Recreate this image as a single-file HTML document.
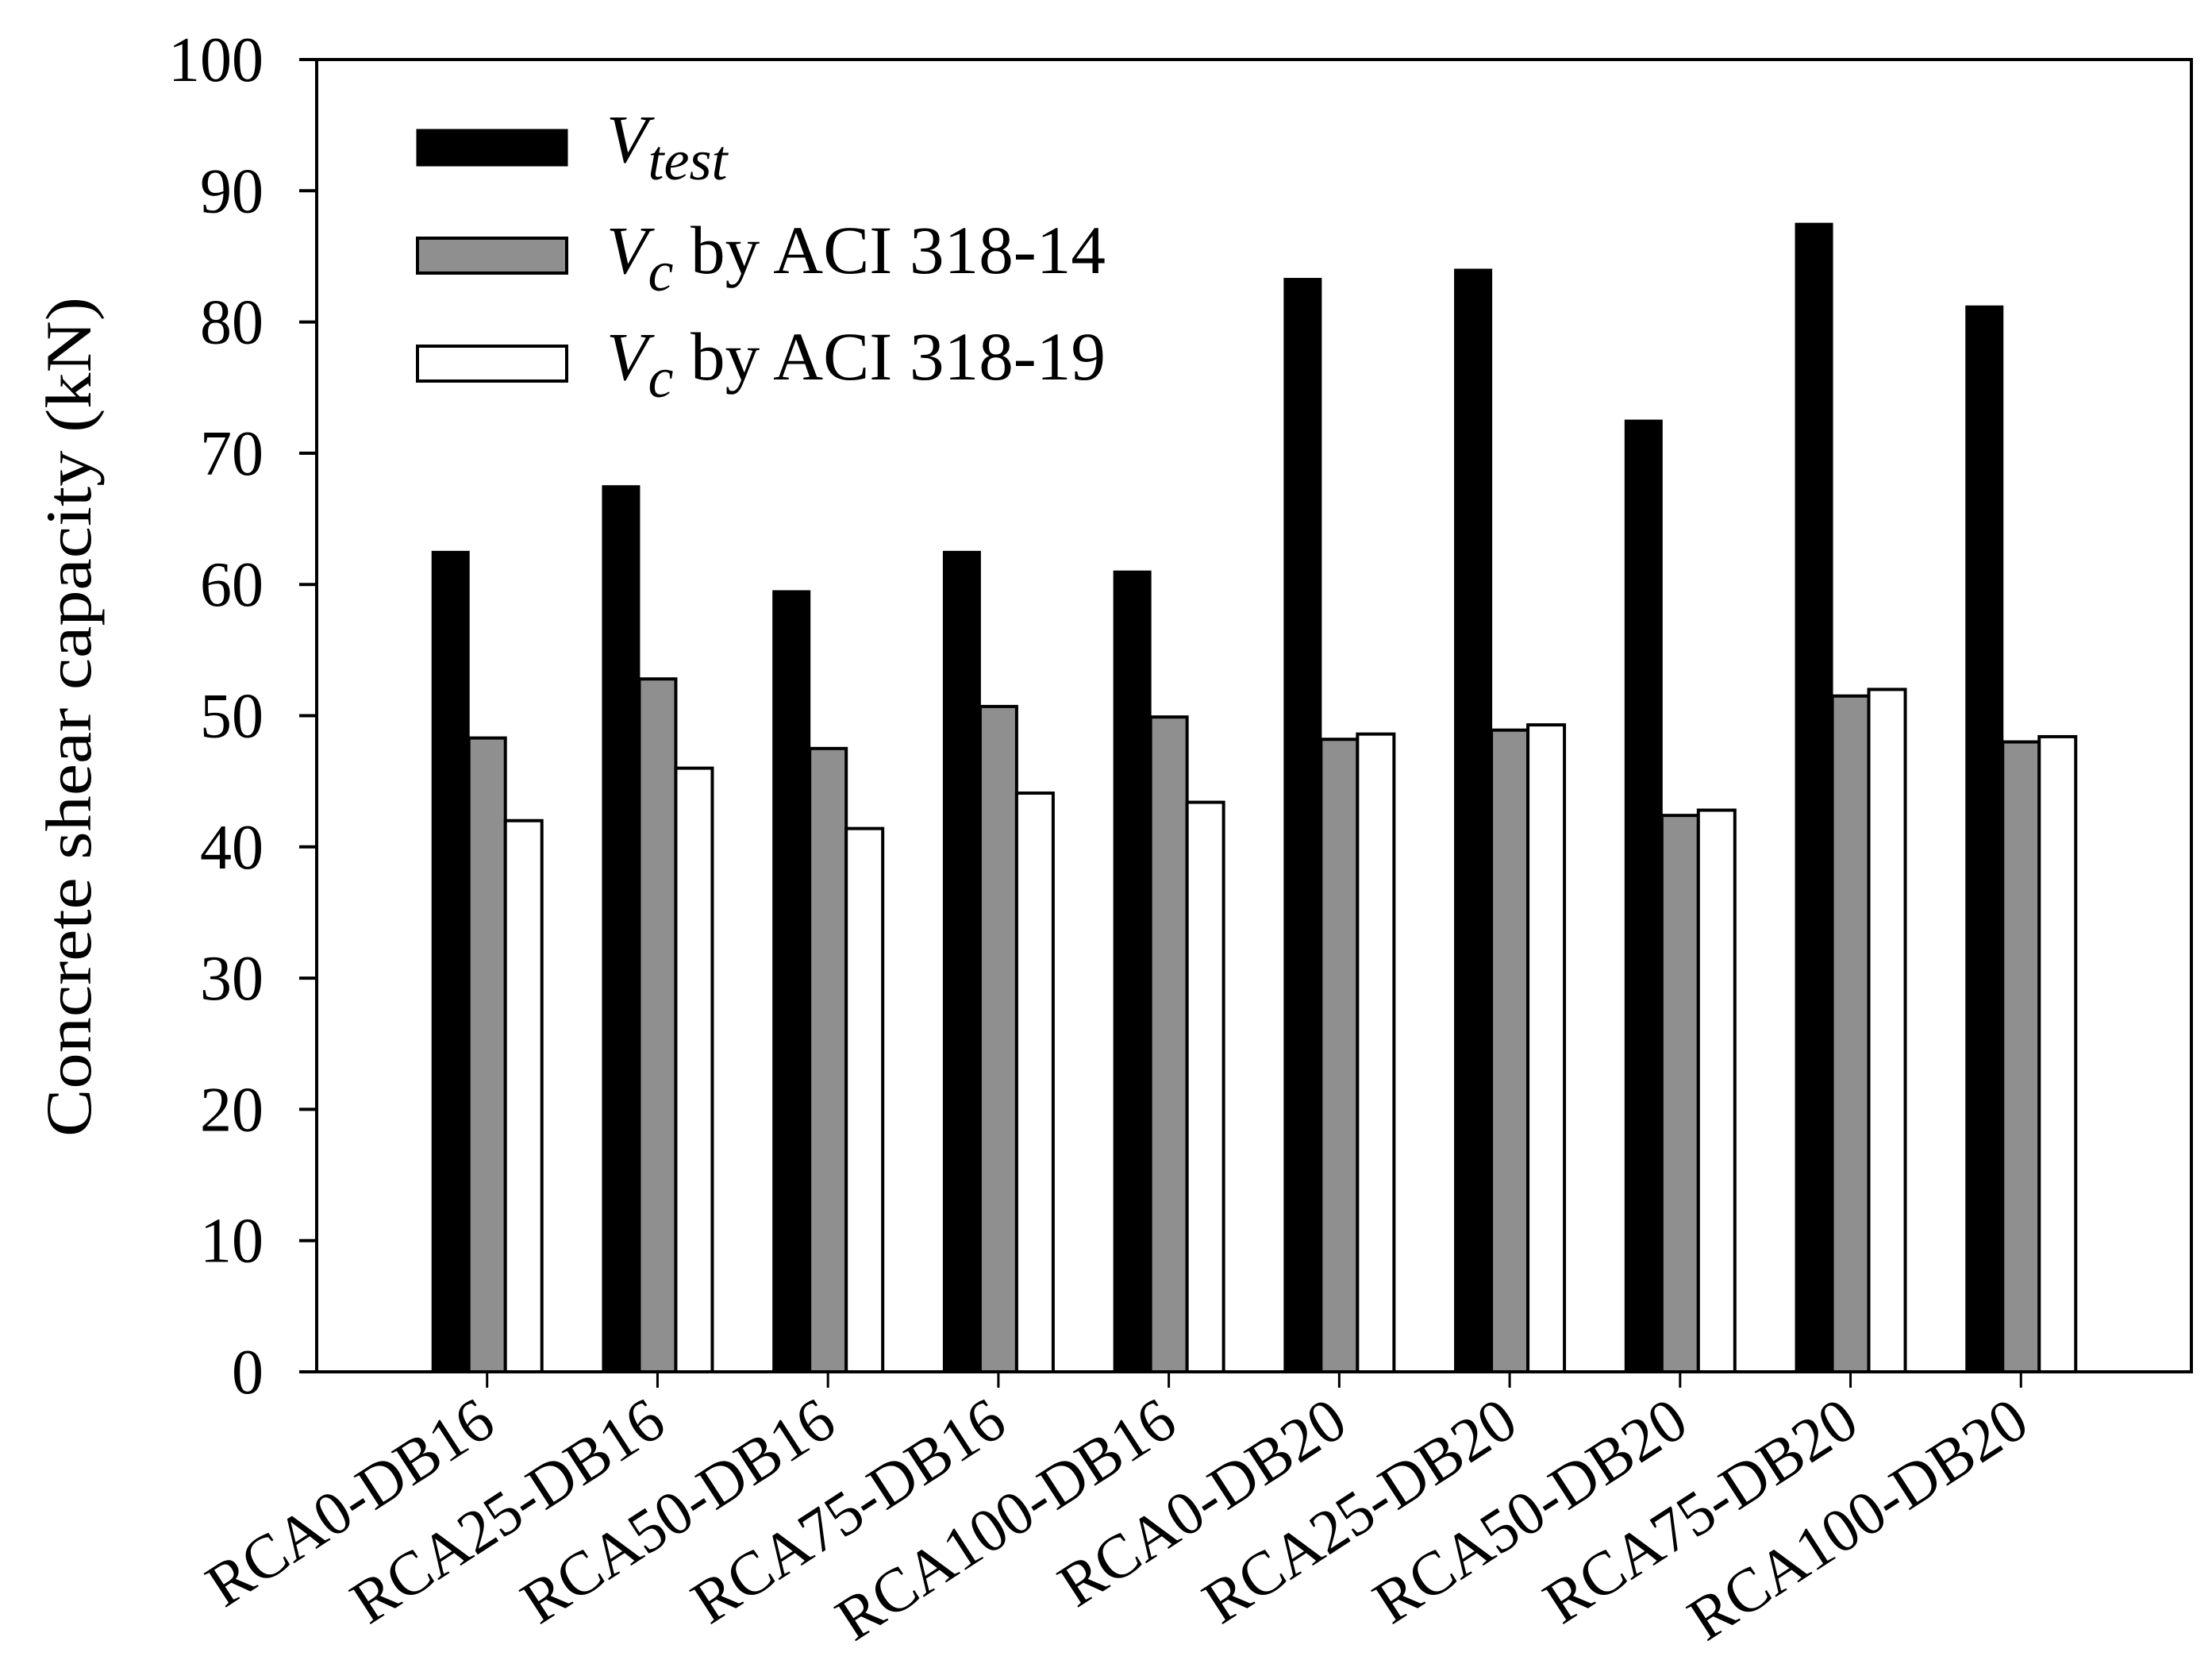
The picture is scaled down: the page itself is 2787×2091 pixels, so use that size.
<!DOCTYPE html>
<html><head><meta charset="utf-8"><style>
html,body{margin:0;padding:0;background:#fff;}
svg{display:block;font-family:"Liberation Serif",serif;}
</style></head><body>
<svg id="chart" width="2787" height="2091" viewBox="0 0 2787 2091" xmlns="http://www.w3.org/2000/svg">
<rect x="0" y="0" width="2787" height="2091" fill="#fff"/>
<g id="bars"></g>
<g id="axes"></g>
<text transform="translate(114,903) rotate(-90)" text-anchor="middle" font-size="82" textLength="1058" lengthAdjust="spacingAndGlyphs">Concrete shear capacity (kN)</text>
<g>
  <rect x="526" y="164" width="188" height="44" fill="#000" stroke="#000" stroke-width="3"/>
  <text x="764" y="204" font-size="86" font-style="italic">V<tspan font-size="72" dy="22">test</tspan></text>
  <rect x="526" y="300" width="188" height="44" fill="#8f8f8f" stroke="#000" stroke-width="4"/>
  <text x="764" y="344" font-size="86"><tspan font-style="italic">V</tspan><tspan font-style="italic" font-size="72" dy="22">c</tspan><tspan dy="-22" x="870" textLength="523" lengthAdjust="spacingAndGlyphs">by ACI 318-14</tspan></text>
  <rect x="526" y="436" width="188" height="44" fill="#fff" stroke="#000" stroke-width="4"/>
  <text x="764" y="478" font-size="86"><tspan font-style="italic">V</tspan><tspan font-style="italic" font-size="72" dy="22">c</tspan><tspan dy="-22" x="870" textLength="523" lengthAdjust="spacingAndGlyphs">by ACI 318-19</tspan></text>
</g>
</svg>
<script>
const categories = ["RCA0-DB16","RCA25-DB16","RCA50-DB16","RCA75-DB16","RCA100-DB16","RCA0-DB20","RCA25-DB20","RCA50-DB20","RCA75-DB20","RCA100-DB20"];
const vTest = [62.5, 67.5, 59.5, 62.5, 61.0, 83.3, 84.0, 72.5, 87.5, 81.2];
const vcAci14 = [48.3, 52.8, 47.5, 50.7, 49.9, 48.2, 48.9, 42.4, 51.5, 48.0];
const vcAci19 = [42.0, 46.0, 41.4, 44.1, 43.4, 48.6, 49.3, 42.8, 52.0, 48.4];
const yTicks = [0,10,20,30,40,50,60,70,80,90,100];

const NS = "http://www.w3.org/2000/svg";
const L = 399, R = 2761, T = 75, B = 1728;
const yMax = 100;
const y = v => B - v / yMax * (B - T);
const slot = (R - L) / (categories.length + 1);
const xc = i => L + (i + 1) * slot;
const BW = 46;

function mk(tag, attrs, parent) {
  const el = document.createElementNS(NS, tag);
  for (const k in attrs) el.setAttribute(k, attrs[k]);
  parent.appendChild(el);
  return el;
}
const bars = document.getElementById("bars");
const axes = document.getElementById("axes");
const series = [
  {vals: vTest, fill: "#000", sw: 2, off: -69, name: "vtest"},
  {vals: vcAci14, fill: "#8f8f8f", sw: 4, off: -23, name: "aci14"},
  {vals: vcAci19, fill: "#fff", sw: 4, off: 23, name: "aci19"}
];
series.forEach(s => {
  s.vals.forEach((v, i) => {
    const r = mk("rect", {x: xc(i) + s.off, y: y(v), width: BW, height: B - y(v), fill: s.fill, stroke: "#000", "stroke-width": s.sw}, bars);
    
    
  });
});
const frame = mk("rect", {x: L, y: T, width: R - L, height: B - T, fill: "none", stroke: "#000", "stroke-width": 4}, axes);


yTicks.forEach(t => {
  const ln = mk("line", {x1: L - 22, x2: L, y1: y(t), y2: y(t), stroke: "#000", "stroke-width": 4}, axes);
  
  
  const tx = mk("text", {x: 332, y: y(t) + 27, "text-anchor": "end", "font-size": 80}, axes);
  tx.textContent = t;
  
  
});
categories.forEach((c, i) => {
  const ln = mk("line", {x1: xc(i), x2: xc(i), y1: B, y2: B + 20, stroke: "#000", "stroke-width": 3}, axes);
  
  
  const tx = mk("text", {x: 0, y: 0, "text-anchor": "end", "font-size": 78, transform: "translate(" + (xc(i) + 14) + "," + (B + 74) + ") rotate(-33)"}, axes);
  tx.textContent = c;
  
  
});
</script>
</body></html>
